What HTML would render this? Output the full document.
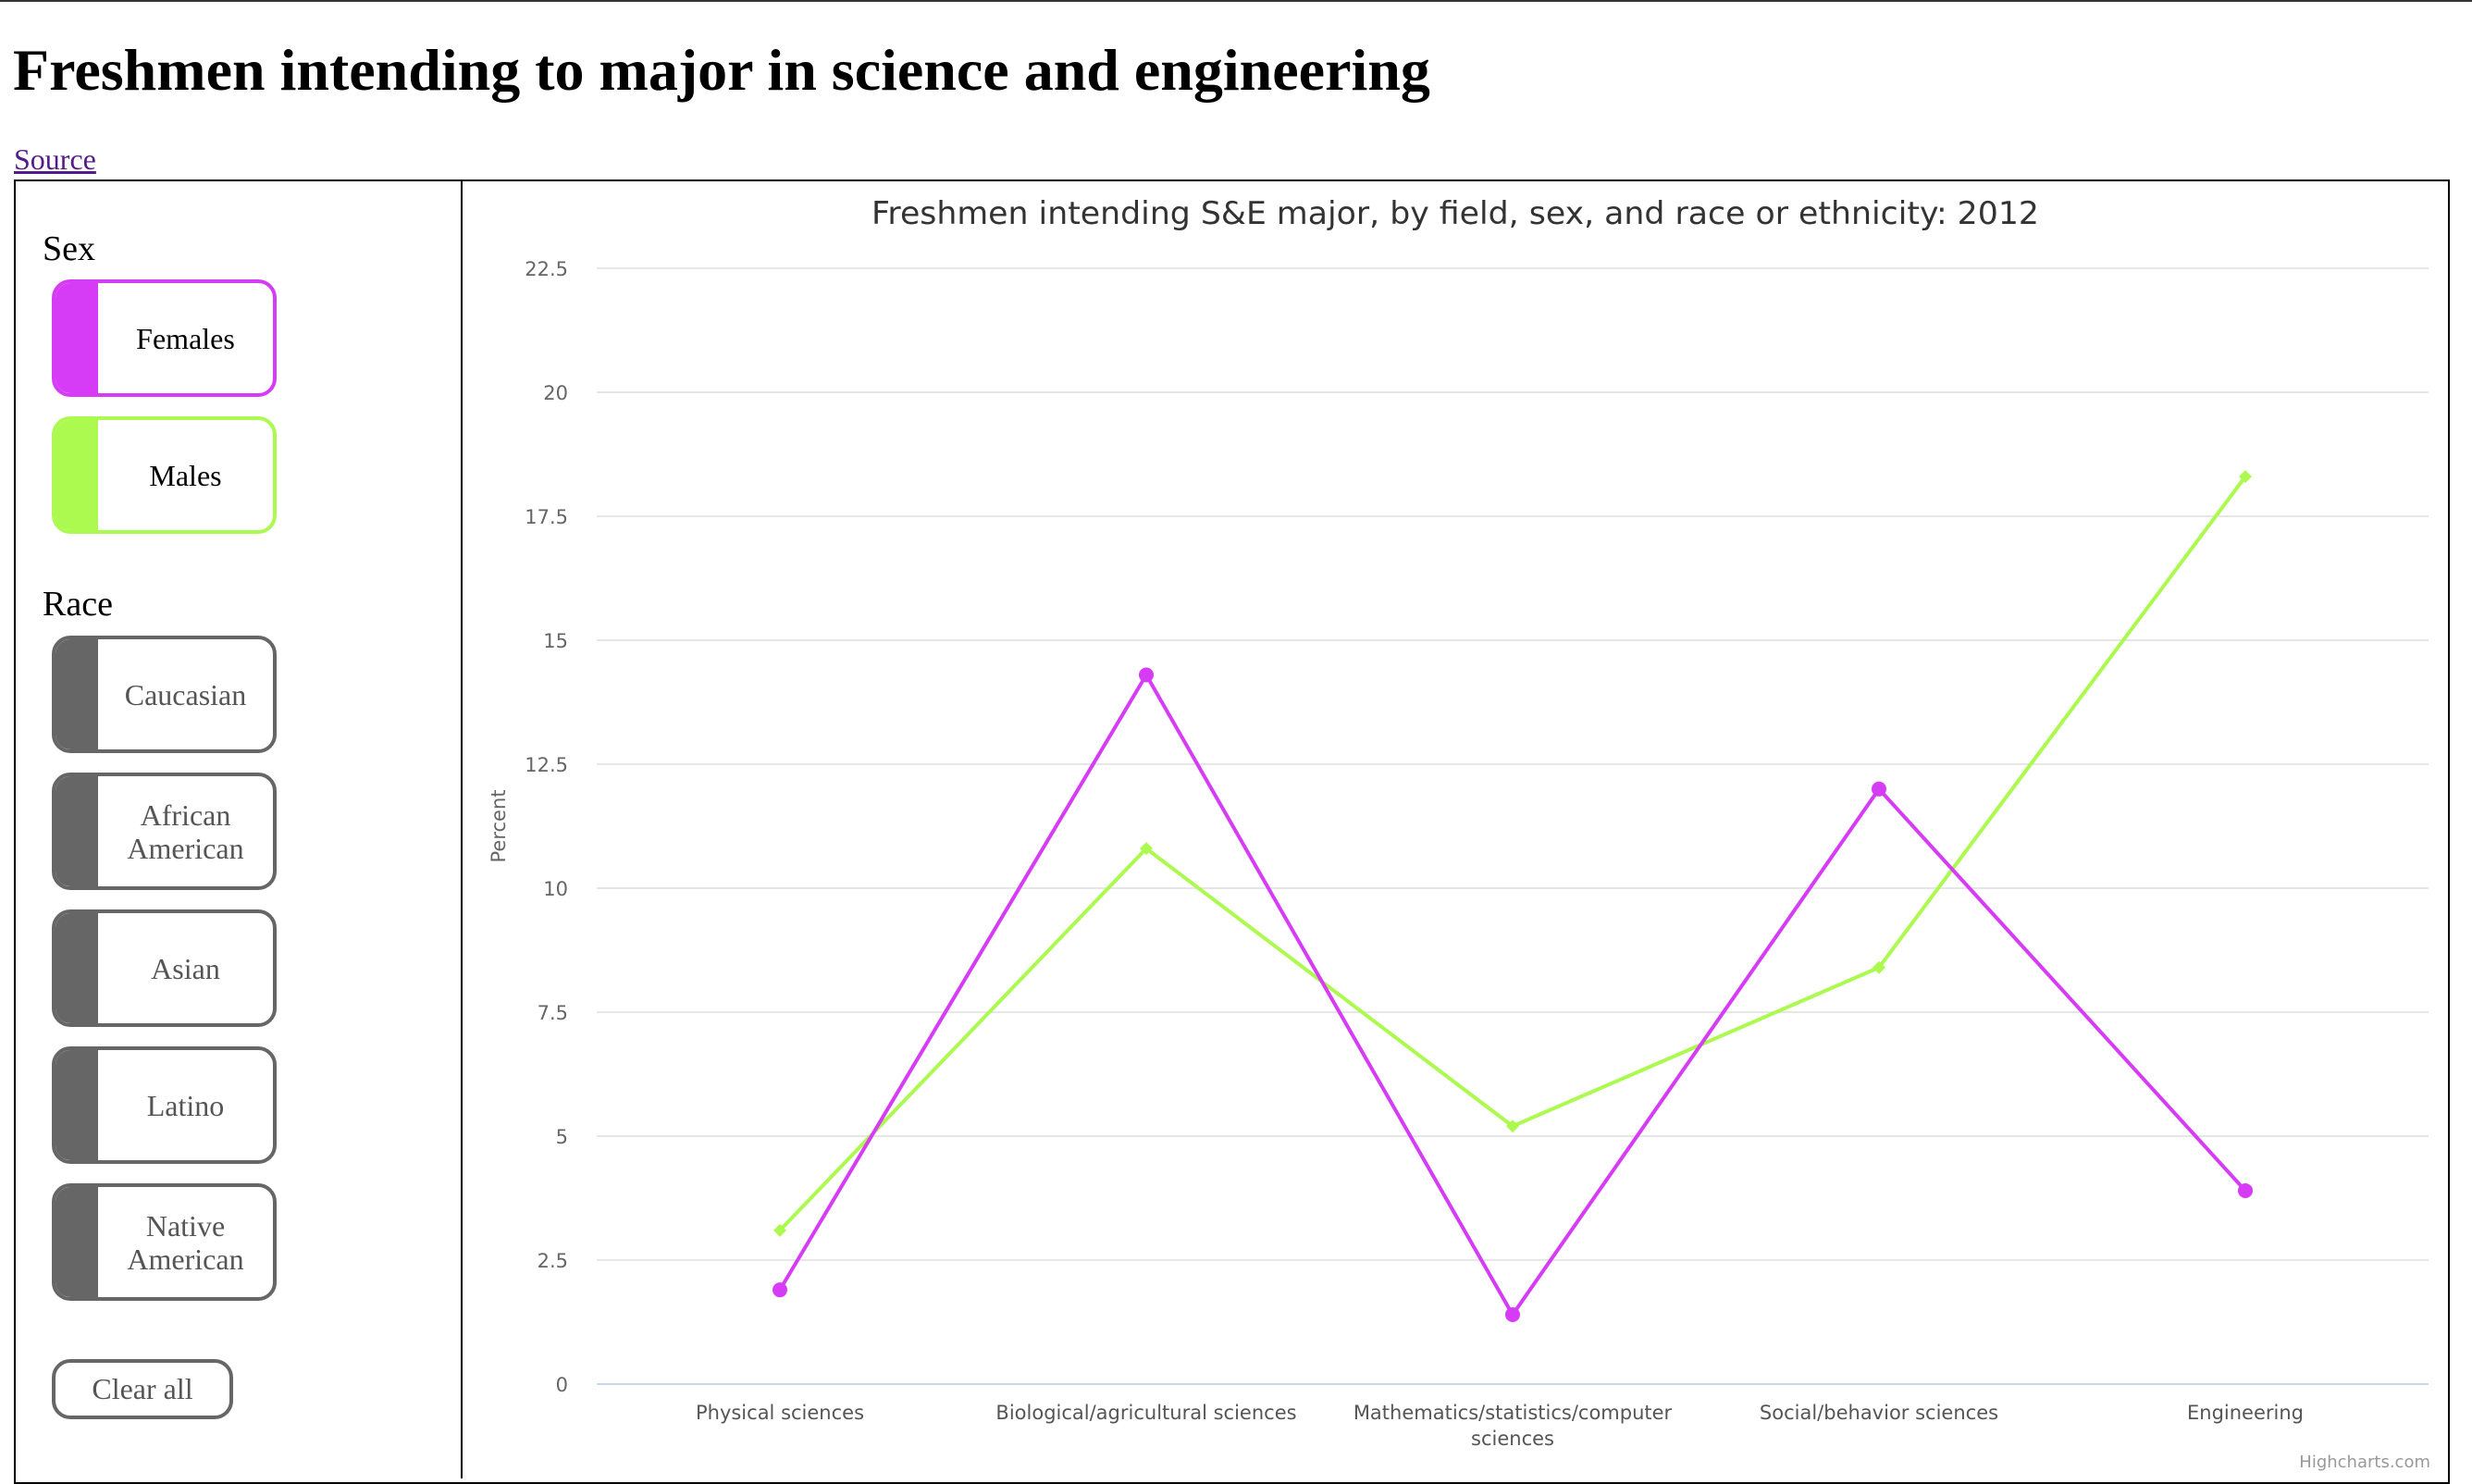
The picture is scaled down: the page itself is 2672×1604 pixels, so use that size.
<!DOCTYPE html>
<html><head><meta charset="utf-8"><style>
body{margin:0;width:2672px;height:1598px;position:relative;background:#fff;overflow:hidden;font-family:"Liberation Serif",serif;}
.abs{position:absolute;}
.btn{position:absolute;left:56px;width:243px;height:127px;box-sizing:border-box;border:4px solid #666;border-radius:20px;overflow:hidden;background:#fff;}
.btn .strip{position:absolute;left:0;top:0;bottom:0;width:46px;background:#666;}
.btn .lbl{position:absolute;left:46px;right:0;top:0;bottom:0;display:flex;align-items:center;justify-content:center;text-align:center;font-size:32px;line-height:36px;color:#555;}
</style></head><body>
<div class="abs" style="left:0;top:0;width:2672px;height:2px;background:#333"></div>
<div class="abs" style="left:14px;top:36px;font-size:64px;font-weight:bold;line-height:80px;white-space:nowrap">Freshmen intending to major in science and engineering</div>
<a class="abs" style="left:15px;top:152px;font-size:32px;line-height:40px;color:#551a8b;text-decoration:underline">Source</a>
<div class="abs" style="left:15px;top:194px;width:2633px;height:1410px;box-sizing:border-box;border:2px solid #000"></div>
<div class="abs" style="left:498px;top:194px;width:2px;height:1404px;background:#000"></div>

<div class="abs" style="left:46px;top:246px;font-size:38px;line-height:46px">Sex</div>
<div class="btn" style="top:302px;border-color:#d63cf5"><div class="strip" style="background:#d63cf5"></div><div class="lbl" style="color:#000">Females</div></div>
<div class="btn" style="top:450px;border-color:#acf94f"><div class="strip" style="background:#acf94f"></div><div class="lbl" style="color:#000">Males</div></div>

<div class="abs" style="left:46px;top:630px;font-size:38px;line-height:46px">Race</div>
<div class="btn" style="top:687px"><div class="strip"></div><div class="lbl">Caucasian</div></div>
<div class="btn" style="top:835px"><div class="strip"></div><div class="lbl">African<br>American</div></div>
<div class="btn" style="top:983px"><div class="strip"></div><div class="lbl">Asian</div></div>
<div class="btn" style="top:1131px"><div class="strip"></div><div class="lbl">Latino</div></div>
<div class="btn" style="top:1279px"><div class="strip"></div><div class="lbl">Native<br>American</div></div>
<div class="abs" style="left:56px;top:1469px;width:196px;height:65px;box-sizing:border-box;border:4px solid #666;border-radius:20px;display:flex;align-items:center;justify-content:center;font-size:32px;color:#555">Clear all</div>

<svg id="chart" class="abs" style="left:0;top:0" width="2672" height="1598" xmlns="http://www.w3.org/2000/svg"></svg>
<script>
const categories = ["Physical sciences","Biological/agricultural sciences","Mathematics/statistics/computer sciences","Social/behavior sciences","Engineering"];
const femalesValues = [1.9, 14.3, 1.4, 12.0, 3.9];
const malesValues = [3.1, 10.8, 5.2, 8.4, 18.3];
const yTicks = [0, 2.5, 5, 7.5, 10, 12.5, 15, 17.5, 20, 22.5];
const yTickLabels = ["0","2.5","5","7.5","10","12.5","15","17.5","20","22.5"];

const NS = "http://www.w3.org/2000/svg";
const svg = document.getElementById('chart');
const plotL = 645, plotR = 2625, plotT = 290, plotB = 1496, yMax = 22.5;
const xScale = i => plotL + (i + 0.5) * (plotR - plotL) / categories.length;
const yScale = v => plotB - v / yMax * (plotB - plotT);
function mk(tag, attrs, text){const e=document.createElementNS(NS,tag);for(const k in attrs)e.setAttribute(k,attrs[k]);if(text!=null)e.textContent=text;svg.appendChild(e);return e;}
const sans = '"DejaVu Sans","Liberation Sans",sans-serif';

let t = mk('text',{x:1573,y:242,'text-anchor':'middle','font-family':sans,'font-size':34,fill:'#333',textLength:1262,lengthAdjust:'spacingAndGlyphs'},'Freshmen intending S&E major, by field, sex, and race or ethnicity: 2012');



yTicks.forEach((v,i)=>{
  const y = yScale(v);
  const g = mk('line',{x1:plotL,x2:plotR,y1:y,y2:y,stroke:v===0?'#ccd6eb':'#e6e6e6','stroke-width':2});
  
  
  const l = mk('text',{x:614,y:y+8,'text-anchor':'end','font-family':sans,'font-size':21,fill:'#666'},yTickLabels[i]);
  
  
});

categories.forEach((c,i)=>{
  const x = xScale(i);
  const lines = c === "Mathematics/statistics/computer sciences" ? ["Mathematics/statistics/computer","sciences"] : [c];
  lines.forEach((s,j)=>{
    const e = mk('text',{x:x,y:1534+j*28,'text-anchor':'middle','font-family':sans,'font-size':21,fill:'#555'},s);
    
    
  });
});

const yt = mk('text',{x:0,y:0,transform:'translate(546,893) rotate(-90)','text-anchor':'middle','font-family':sans,'font-size':21,fill:'#666'},'Percent');



function series(vals,color,name,diamond){
  const pts = vals.map((v,i)=>xScale(i)+','+yScale(v)).join(' ');
  const pl = mk('polyline',{points:pts,fill:'none',stroke:color,'stroke-width':4,'stroke-linejoin':'round'});
  
  
  vals.forEach((v,i)=>{
    const x=xScale(i), y=yScale(v);
    let m;
    if(diamond) m = mk('path',{d:`M${x} ${y-7}L${x+7} ${y}L${x} ${y+7}L${x-7} ${y}Z`,fill:color});
    else m = mk('circle',{cx:x,cy:y,r:8,fill:color});
    
    
  });
}
series(malesValues,'#acf94f','males',true);
series(femalesValues,'#d63cf5','females',false);

const hc = mk('text',{x:2627,y:1586,'text-anchor':'end','font-family':sans,'font-size':18,fill:'#999'},'Highcharts.com');


</script>
</body></html>
